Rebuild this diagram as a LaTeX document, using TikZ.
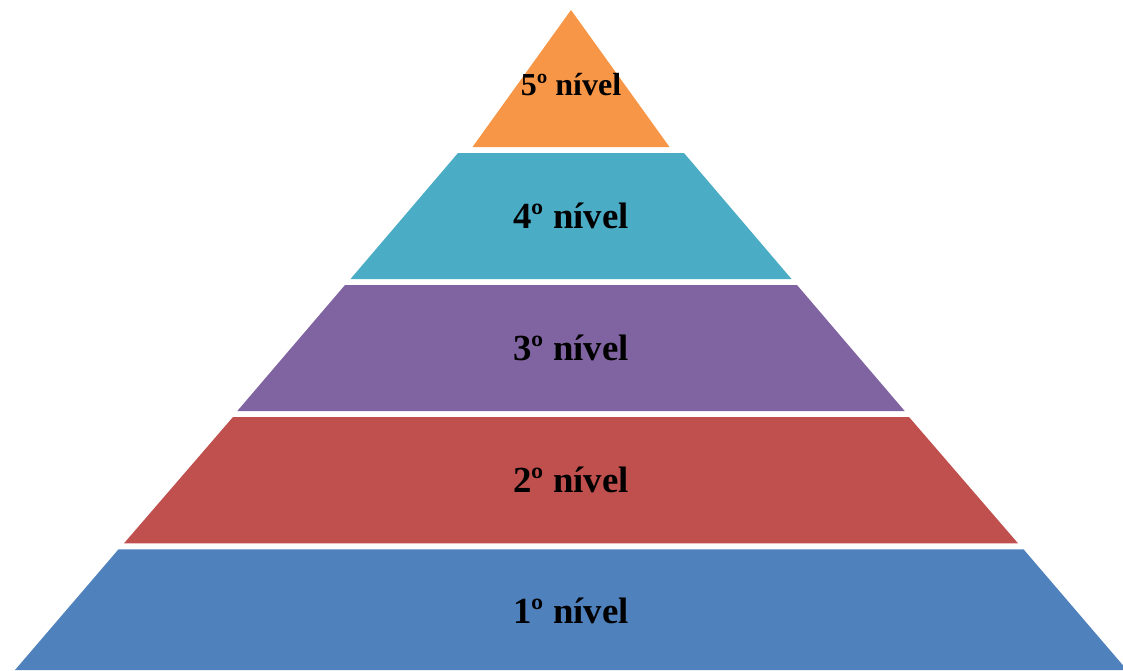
\documentclass[tikz,border=0pt]{standalone}
\usepackage{fontspec}
\setmainfont{Liberation Serif}
\definecolor{lvorange}{HTML}{F79646}
\definecolor{lvteal}{HTML}{4BACC6}
\definecolor{lvpurple}{HTML}{8064A2}
\definecolor{lvred}{HTML}{C0504D}
\definecolor{lvblue}{HTML}{4F81BD}
\begin{document}
\begin{tikzpicture}[x=1pt,y=-1pt,
  lbl/.style={anchor=base,inner sep=0pt,font=\bfseries\fontsize{36.8}{42}\selectfont,text=black}]
\useasboundingbox (0,0) rectangle (1123,670);
\fill[lvorange] (571,10) -- (669.5,147) -- (472.5,147) -- cycle;
\fill[lvteal] (458,153) -- (684,153) -- (791.5,279) -- (350.5,279) -- cycle;
\fill[lvpurple] (345,285) -- (797,285) -- (904.7,411) -- (237.3,411) -- cycle;
\fill[lvred] (233,417) -- (909,417) -- (1018,543.3) -- (124,543.3) -- cycle;
\fill[lvblue] (118.5,549.3) -- (1023.5,549.3) -- (1127,670) -- (15,670) -- cycle;
\node[lbl,font=\bfseries\fontsize{32}{37}\selectfont] (l5) at (571,95) {5º nível};
\node[lbl] (l4) at (571,228) {4º nível};
\node[lbl] (l3) at (571,360) {3º nível};
\node[lbl] (l2) at (571,492) {2º nível};
\node[lbl] (l1) at (571,623) {1º nível};
\end{tikzpicture}
\end{document}
